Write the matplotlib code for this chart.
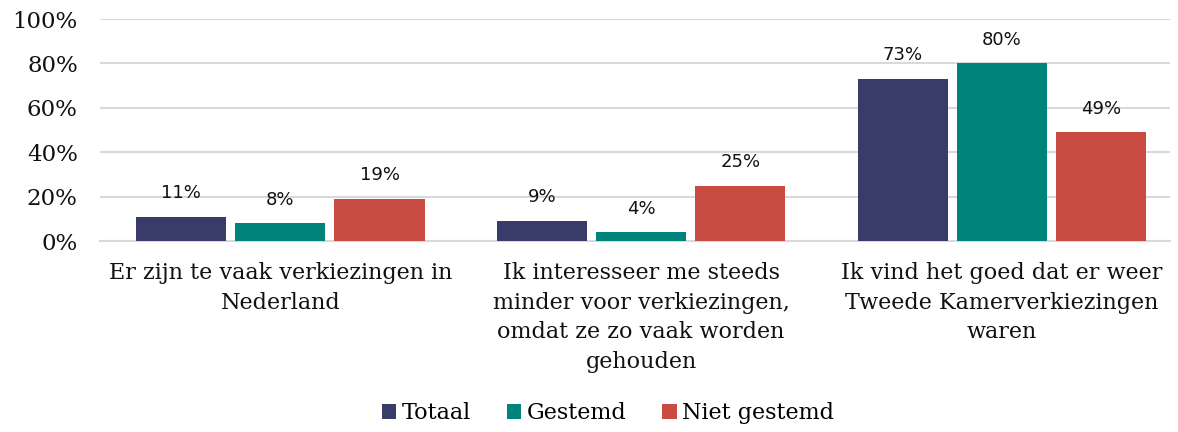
import matplotlib
matplotlib.use("Agg")
import matplotlib.pyplot as plt
import numpy as np
from matplotlib.ticker import FuncFormatter

categories = [
    "Er zijn te vaak verkiezingen in\nNederland",
    "Ik interesseer me steeds\nminder voor verkiezingen,\nomdat ze zo vaak worden\ngehouden",
    "Ik vind het goed dat er weer\nTweede Kamerverkiezingen\nwaren",
]
series_names = ["Totaal", "Gestemd", "Niet gestemd"]
totaal = [11, 9, 73]
gestemd = [8, 4, 80]
niet_gestemd = [19, 25, 49]
colors = ["#393B68", "#00837A", "#C94C43"]

W, H = 1178, 432
fig = plt.figure(figsize=(W / 100, H / 100), dpi=100)
ax = fig.add_axes([100 / W, 1 - 241 / H, (1170 - 100) / W, (241 - 19) / H])

serif = "DejaVu Serif"
sans = "DejaVu Sans"

x = np.arange(len(categories))
bw = 0.25
step = 0.275
for i, (name, vals) in enumerate(zip(series_names, [totaal, gestemd, niet_gestemd])):
    pos = x + (i - 1) * step
    ax.bar(pos, vals, width=bw, color=colors[i], label=name, zorder=3)
    for p, v in zip(pos, vals):
        ax.annotate(f"{v}%", (p, v), xytext=(0, 17), textcoords="offset points",
                    ha="center", va="center", fontsize=13, family=sans, color="#111111")

ax.set_xlim(-0.5, 2.466)
ax.set_ylim(0, 100)
ax.set_yticks(range(0, 101, 20))
ax.yaxis.set_major_formatter(FuncFormatter(lambda v, _: f"{int(v)}%"))
ax.grid(axis="y", color="#D9D9D9", linewidth=1.5, zorder=0)
ax.set_axisbelow(True)
for s in ["top", "right", "left"]:
    ax.spines[s].set_visible(False)
ax.spines["bottom"].set_color("#D9D9D9")
ax.spines["bottom"].set_linewidth(1.5)
ax.tick_params(axis="both", length=0)
ax.tick_params(axis="y", pad=16)
for lbl in ax.get_yticklabels():
    lbl.set_family(serif)
    lbl.set_fontsize(16.5)
    lbl.set_color("#111111")

ax.set_xticks(x)
ax.set_xticklabels(categories, family=serif, fontsize=16, color="#111111",
                   va="top", linespacing=1.46)
ax.tick_params(axis="x", pad=15)

leg = fig.legend(loc="center", bbox_to_anchor=(608 / W, 1 - 413 / H), ncol=3,
                 frameon=False, prop={"family": serif, "size": 16},
                 handlelength=0.65, handleheight=0.65, handletextpad=0.25,
                 columnspacing=1.6)

fig.savefig("out.png", dpi=100)
